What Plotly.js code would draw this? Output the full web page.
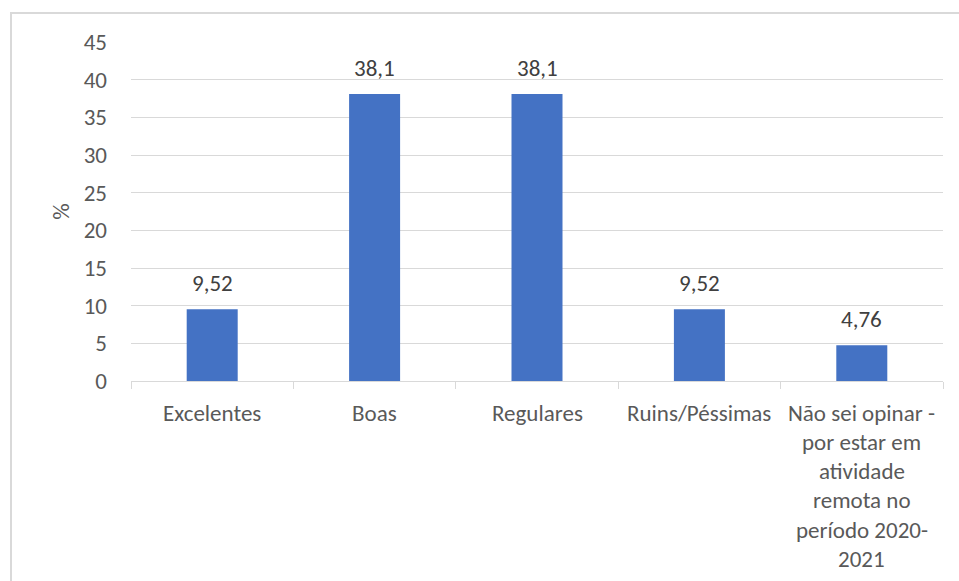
<!DOCTYPE html>
<html>
<head>
<meta charset="utf-8">
<script src="https://cdn.plot.ly/plotly-3.0.1.min.js"></script>
<style>
  html, body { margin: 0; padding: 0; background: #fff; overflow: hidden; }
  #wrap { position: relative; width: 959px; height: 581px; }
  #chart { position: absolute; left: 0; top: 0; width: 959px; height: 581px; }
  #frame { position: absolute; left: 10px; top: 12px; width: 1000px; height: 1000px;
           border: 2px solid #d9d9d9; pointer-events: none; box-sizing: border-box; }
</style>
</head>
<body>
<div id="wrap">
  <div id="chart"></div>
  <div id="frame"></div>
</div>
<script>
// Data
const categories = ["Excelentes", "Boas", "Regulares", "Ruins/Péssimas", "Não sei opinar"];
const categoryLabels = [
  ["Excelentes"],
  ["Boas"],
  ["Regulares"],
  ["Ruins/Péssimas"],
  ["Não sei opinar -", "por estar em", "atividade", "remota no", "período 2020-", "2021"]
];
const values = [9.52, 38.1, 38.1, 9.52, 4.76];
const valueLabels = ["9,52", "38,1", "38,1", "9,52", "4,76"];
const yTicks = [0, 5, 10, 15, 20, 25, 30, 35, 40, 45];
const yAxisTitle = "%";

const FONT = "Carlito, Lato, 'Open Sans', sans-serif";
const TXT = "#595959";
const FS = 23;

const annotations = [];
values.forEach((v, i) => {
  annotations.push({
    x: categories[i], y: v, xref: "x", yref: "y",
    text: valueLabels[i], showarrow: false,
    yanchor: "middle", yshift: 26,
    font: { family: FONT, size: FS, color: "#404040" }
  });
});
categoryLabels.forEach((lines, i) => {
  lines.forEach((ln, j) => {
    annotations.push({
      x: categories[i], y: 0, xref: "x", yref: "y",
      text: ln, showarrow: false,
      yanchor: "middle", yshift: -31.5 - j * 29.3,
      font: { family: FONT, size: FS, color: TXT }
    });
  });
});

const trace = {
  type: "bar",
  x: categories,
  y: values,
  marker: { color: "#4472C4" },
  hoverinfo: "skip"
};

const layout = {
  width: 959, height: 581,
  margin: { l: 131, r: 16, t: 42, b: 200, pad: 0 },
  paper_bgcolor: "#ffffff",
  plot_bgcolor: "#ffffff",
  bargap: 0.686,
  showlegend: false,
  font: { family: FONT, size: FS, color: TXT },
  xaxis: {
    type: "category",
    showticklabels: false,
    showgrid: false,
    showline: true, linecolor: "#d9d9d9", linewidth: 1,
    ticks: "outside", tickson: "boundaries", ticklen: 7, tickcolor: "#d9d9d9", tickwidth: 1,
    zeroline: false,
    fixedrange: true
  },
  yaxis: {
    range: [0, 45],
    tickvals: yTicks,
    ticktext: yTicks.map(String),
    showgrid: true, gridcolor: "#d9d9d9", gridwidth: 1,
    zeroline: false,
    showline: false,
    ticks: "",
    ticklabelstandoff: 23,
    tickfont: { family: FONT, size: FS, color: TXT },
    title: { text: yAxisTitle, font: { family: FONT, size: FS, color: TXT }, standoff: 7 },
    fixedrange: true
  },
  annotations: annotations
};

Plotly.newPlot("chart", [trace], layout, { displayModeBar: false, staticPlot: true });
</script>
</body>
</html>
